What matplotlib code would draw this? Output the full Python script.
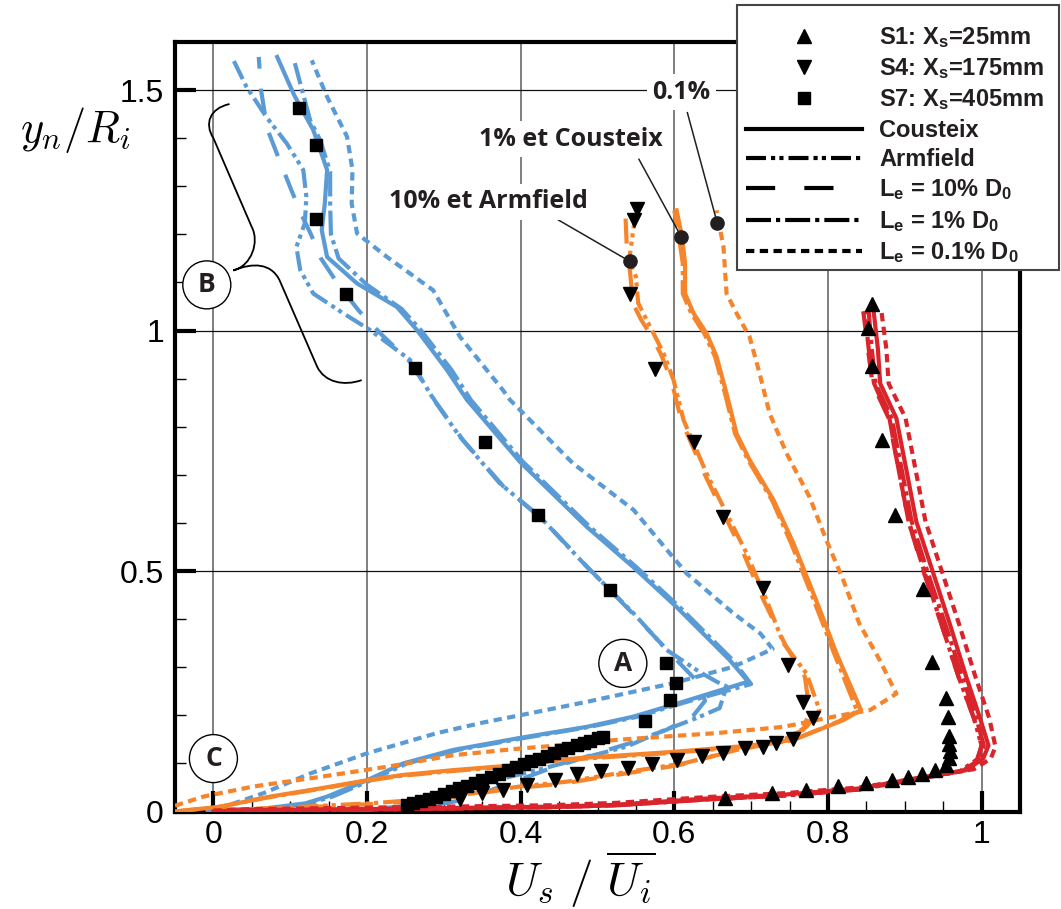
import matplotlib.pyplot as plt
from matplotlib.lines import Line2D
from matplotlib.patches import Ellipse, PathPatch, Rectangle
from matplotlib.path import Path
from matplotlib.ticker import MultipleLocator

# mathtext for the legend subscripts (axis labels switch back to cm)
plt.rcParams['mathtext.fontset'] = 'custom'
plt.rcParams['mathtext.rm'] = 'Liberation Sans:bold'
plt.rcParams['mathtext.it'] = 'Liberation Sans:bold'
plt.rcParams['mathtext.bf'] = 'Liberation Sans:bold'

c_s7 = '#5b9bd5'
c_s4 = '#f5842a'
c_s1 = '#d9242b'
ink = '#231f20'

# ---------------- S7 (X_s = 405 mm) ----------------
s7_cous_u = [0.00, 0.06, 0.12, 0.148, 0.20, 0.247, 0.312, 0.399, 0.486, 0.546, 0.611, 0.696, 0.672, 0.603,
             0.546, 0.486, 0.399, 0.330, 0.304, 0.265, 0.239, 0.187, 0.148, 0.141, 0.145, 0.148, 0.130, 0.105, 0.083]
s7_cous_y = [0.003, 0.005, 0.017, 0.031, 0.065, 0.100, 0.128, 0.153, 0.176, 0.197, 0.228, 0.270, 0.315, 0.425,
             0.509, 0.592, 0.727, 0.856, 0.918, 1.001, 1.049, 1.098, 1.153, 1.209, 1.264, 1.334, 1.417, 1.490, 1.569]
s7_1_u = [0.00, 0.07, 0.125, 0.155, 0.205, 0.252, 0.318, 0.405, 0.490, 0.552, 0.616, 0.700, 0.676, 0.607,
          0.550, 0.490, 0.403, 0.335, 0.310, 0.270, 0.245, 0.200, 0.163, 0.153, 0.152, 0.152, 0.139, 0.126, 0.106]
s7_1_y = [0.003, 0.005, 0.017, 0.031, 0.065, 0.100, 0.128, 0.153, 0.176, 0.197, 0.228, 0.265, 0.315, 0.425,
          0.509, 0.592, 0.727, 0.856, 0.918, 1.001, 1.045, 1.095, 1.150, 1.200, 1.260, 1.330, 1.396, 1.437, 1.556]
s7_01_u = [-0.01, 0.009, 0.065, 0.126, 0.200, 0.291, 0.351, 0.399, 0.486, 0.599, 0.677, 0.728, 0.712, 0.677,
           0.616, 0.547, 0.468, 0.386, 0.377, 0.321, 0.286, 0.226, 0.187, 0.180, 0.181, 0.174, 0.148, 0.128]
s7_01_y = [0.000, 0.007, 0.038, 0.079, 0.121, 0.163, 0.185, 0.200, 0.228, 0.267, 0.301, 0.338, 0.370, 0.412,
           0.495, 0.627, 0.724, 0.856, 0.876, 0.987, 1.084, 1.153, 1.202, 1.264, 1.334, 1.403, 1.486, 1.562]
s7_arm_u = [0.00, 0.10, 0.20, 0.25, 0.30, 0.334, 0.38, 0.421, 0.490, 0.538, 0.581, 0.630, 0.659, 0.668, 0.655,
            0.633, 0.590, 0.547, 0.486, 0.425, 0.373, 0.321, 0.287, 0.256, 0.204, 0.169, 0.130, 0.113, 0.108,
            0.119, 0.121, 0.117, 0.0955, 0.069, 0.043, 0.024]
s7_arm_y = [0.000, 0.001, 0.003, 0.012, 0.035, 0.055, 0.070, 0.086, 0.115, 0.135, 0.165, 0.195, 0.215, 0.260,
            0.270, 0.290, 0.336, 0.412, 0.509, 0.613, 0.682, 0.779, 0.856, 0.939, 1.001, 1.036, 1.077, 1.126,
            1.174, 1.223, 1.278, 1.334, 1.389, 1.444, 1.507, 1.569]
s7_10_u = [0.00, 0.12, 0.22, 0.27, 0.325, 0.38, 0.434, 0.499, 0.542, 0.590, 0.625, 0.640, 0.630, 0.600, 0.550,
           0.490, 0.430, 0.378, 0.325, 0.290, 0.256, 0.220, 0.190, 0.165, 0.140, 0.127, 0.115, 0.102, 0.087,
           0.070, 0.062, 0.059]
s7_10_y = [0.000, 0.001, 0.003, 0.008, 0.024, 0.055, 0.087, 0.121, 0.142, 0.170, 0.200, 0.230, 0.270, 0.320,
           0.405, 0.503, 0.605, 0.675, 0.772, 0.850, 0.935, 0.990, 1.040, 1.090, 1.150, 1.200, 1.240, 1.290,
           1.350, 1.420, 1.500, 1.569]
s7_exp_u = [0.111, 0.133, 0.134, 0.172, 0.262, 0.354, 0.422, 0.516, 0.589, 0.602, 0.595, 0.562,
            0.507, 0.500, 0.490, 0.482, 0.473, 0.462, 0.453, 0.444, 0.434, 0.424, 0.414, 0.404, 0.394, 0.383,
            0.372, 0.361, 0.350, 0.340, 0.330, 0.320, 0.310, 0.300, 0.290, 0.280, 0.270, 0.260, 0.252]
s7_exp_y = [1.462, 1.386, 1.231, 1.077, 0.923, 0.769, 0.616, 0.461, 0.308, 0.268, 0.232, 0.189,
            0.155, 0.152, 0.147, 0.142, 0.138, 0.132, 0.127, 0.122, 0.116, 0.110, 0.105, 0.099, 0.093, 0.086,
            0.079, 0.072, 0.066, 0.060, 0.054, 0.048, 0.043, 0.037, 0.031, 0.026, 0.021, 0.017, 0.014]

# ---------------- S4 (X_s = 175 mm) ----------------
s4_cous_u = [-0.05, 0.009, 0.074, 0.139, 0.200, 0.247, 0.312, 0.399, 0.451, 0.486, 0.599, 0.698, 0.755, 0.820,
             0.843, 0.811, 0.798, 0.781, 0.755, 0.729, 0.698, 0.681, 0.668, 0.655, 0.642, 0.625, 0.614, 0.614,
             0.610, 0.603]
s4_cous_y = [0.000, 0.010, 0.031, 0.048, 0.065, 0.076, 0.086, 0.097, 0.108, 0.112, 0.124, 0.137, 0.149, 0.190,
             0.211, 0.329, 0.384, 0.454, 0.558, 0.648, 0.731, 0.786, 0.869, 0.946, 0.994, 1.036, 1.077, 1.140,
             1.195, 1.250]
s4_1_u = [-0.05, 0.005, 0.070, 0.135, 0.196, 0.243, 0.310, 0.397, 0.449, 0.484, 0.597, 0.695, 0.752, 0.815,
          0.838, 0.808, 0.795, 0.778, 0.752, 0.727, 0.696, 0.679, 0.666, 0.653, 0.639, 0.622, 0.611, 0.611,
          0.606, 0.600]
s4_1_y = [0.000, 0.009, 0.029, 0.046, 0.063, 0.074, 0.084, 0.095, 0.106, 0.110, 0.122, 0.135, 0.147, 0.188,
          0.209, 0.329, 0.384, 0.454, 0.558, 0.648, 0.731, 0.786, 0.869, 0.946, 0.994, 1.036, 1.077, 1.140,
          1.195, 1.250]
s4_01_u = [-0.05, -0.013, 0.052, 0.139, 0.226, 0.312, 0.399, 0.486, 0.525, 0.655, 0.742, 0.807, 0.855, 0.889,
           0.867, 0.841, 0.820, 0.798, 0.776, 0.746, 0.724, 0.711, 0.698, 0.681, 0.668, 0.664, 0.655]
s4_01_y = [0.012, 0.031, 0.052, 0.072, 0.093, 0.117, 0.131, 0.142, 0.149, 0.163, 0.176, 0.197, 0.211, 0.245,
           0.316, 0.390, 0.481, 0.564, 0.654, 0.745, 0.828, 0.911, 0.987, 1.036, 1.077, 1.174, 1.250]
s4_arm_u = [0.000, 0.117, 0.204, 0.291, 0.399, 0.460, 0.525, 0.612, 0.681, 0.742, 0.772, 0.789, 0.772, 0.742,
            0.720, 0.694, 0.668, 0.642, 0.625, 0.612, 0.599, 0.586, 0.573, 0.564, 0.553, 0.550, 0.541, 0.549]
s4_arm_y = [0.002, 0.010, 0.017, 0.027, 0.052, 0.062, 0.079, 0.100, 0.128, 0.149, 0.176, 0.211, 0.287, 0.350,
            0.440, 0.537, 0.620, 0.703, 0.766, 0.814, 0.897, 0.953, 0.994, 1.022, 1.057, 1.112, 1.144, 1.237]
s4_10_u = [0.000, 0.110, 0.200, 0.285, 0.390, 0.455, 0.520, 0.605, 0.672, 0.735, 0.768, 0.776, 0.770, 0.745,
           0.716, 0.690, 0.664, 0.639, 0.622, 0.609, 0.596, 0.582, 0.568, 0.557, 0.546, 0.543, 0.538, 0.536]
s4_10_y = [0.000, 0.008, 0.015, 0.024, 0.048, 0.058, 0.075, 0.096, 0.124, 0.145, 0.170, 0.210, 0.280, 0.345,
           0.440, 0.537, 0.620, 0.703, 0.766, 0.814, 0.897, 0.953, 0.994, 1.022, 1.057, 1.112, 1.180, 1.254]
s4_exp_u = [0.551, 0.547, 0.542, 0.575, 0.625, 0.664, 0.716, 0.748, 0.768, 0.781, 0.755, 0.733, 0.716, 0.692,
            0.664, 0.636, 0.603, 0.571, 0.540, 0.505, 0.473, 0.445, 0.408, 0.377, 0.349, 0.321]
s4_exp_y = [1.252, 1.230, 1.075, 0.920, 0.769, 0.613, 0.464, 0.305, 0.228, 0.194, 0.150, 0.142, 0.135, 0.131,
            0.121, 0.115, 0.107, 0.098, 0.091, 0.085, 0.079, 0.065, 0.055, 0.045, 0.038, 0.027]

# ---------------- S1 (X_s = 25 mm) ----------------
s1_cous_u = [0.000, 0.043, 0.200, 0.438, 0.525, 0.642, 0.742, 0.841, 0.915, 0.980, 1.002, 1.009, 0.998, 0.980,
             0.959, 0.937, 0.915, 0.902, 0.889, 0.868, 0.865, 0.859]
s1_cous_y = [0.000, 0.003, 0.005, 0.010, 0.014, 0.027, 0.035, 0.048, 0.069, 0.086, 0.110, 0.137, 0.194, 0.280,
             0.388, 0.496, 0.603, 0.711, 0.818, 0.890, 0.962, 1.047]
s1_01_u = [0.000, 0.050, 0.200, 0.438, 0.525, 0.642, 0.742, 0.841, 0.920, 0.990, 1.012, 1.018, 1.010, 0.992,
           0.971, 0.949, 0.927, 0.914, 0.901, 0.879, 0.876, 0.869]
s1_01_y = [0.002, 0.005, 0.008, 0.013, 0.018, 0.030, 0.038, 0.050, 0.070, 0.088, 0.110, 0.135, 0.194, 0.280,
           0.388, 0.496, 0.603, 0.711, 0.818, 0.890, 0.962, 1.047]
s1_1_u = [0.000, 0.043, 0.200, 0.438, 0.525, 0.642, 0.742, 0.841, 0.912, 0.975, 0.997, 1.003, 0.993, 0.975,
          0.953, 0.930, 0.909, 0.896, 0.883, 0.862, 0.857, 0.853]
s1_10_u = [0.000, 0.043, 0.200, 0.438, 0.525, 0.642, 0.742, 0.841, 0.910, 0.972, 0.995, 1.000, 0.990, 0.970,
           0.948, 0.925, 0.905, 0.892, 0.879, 0.858, 0.852, 0.846]
s1_arm_u = [0.000, 0.043, 0.200, 0.438, 0.525, 0.642, 0.742, 0.841, 0.910, 0.972, 0.994, 1.000, 0.990, 0.970,
            0.948, 0.926, 0.905, 0.892, 0.880, 0.860, 0.853, 0.848]
s1_low_y = [0.000, 0.002, 0.004, 0.009, 0.013, 0.025, 0.033, 0.046, 0.066, 0.084, 0.108, 0.137, 0.194, 0.280,
            0.388, 0.496, 0.603, 0.711, 0.818, 0.890, 0.962, 1.040]
s1_exp_u = [0.857, 0.852, 0.857, 0.870, 0.887, 0.924, 0.935, 0.954, 0.956, 0.957, 0.958, 0.959, 0.958, 0.954,
            0.939, 0.922, 0.904, 0.883, 0.850, 0.813, 0.772, 0.727, 0.666]
s1_exp_y = [1.055, 1.005, 0.926, 0.772, 0.617, 0.463, 0.310, 0.235, 0.196, 0.158, 0.140, 0.125, 0.112, 0.096,
            0.086, 0.079, 0.072, 0.065, 0.060, 0.052, 0.045, 0.039, 0.029]

# call-outs: text, text position, line start, dot on the curve
note_text = ['10% et Armfield', '1% et Cousteix', '0.1%']
note_pos = [(0.358, 1.268), (0.465, 1.398), (0.609, 1.496)]
note_from = [(0.449, 1.230), (0.554, 1.356), (0.617, 1.453)]
note_dot = [(0.542, 1.144), (0.609, 1.195), (0.656, 1.223)]

circle_text = ['A', 'B', 'C']
circle_pos = [(0.533, 0.308), (-0.0086, 1.095), (0.0, 0.110)]

xticks = [0, 0.2, 0.4, 0.6, 0.8, 1]
xtick_labels = ['0', '0.2', '0.4', '0.6', '0.8', '1']
yticks = [0, 0.5, 1, 1.5]
ytick_labels = ['0', '0.5', '1', '1.5']

legend_labels = ['S1: X$_s$=25mm', 'S4: X$_s$=175mm', 'S7: X$_s$=405mm', 'Cousteix', 'Armfield',
                 'L$_e$ = 10% D$_0$', 'L$_e$ = 1% D$_0$', 'L$_e$ = 0.1% D$_0$']

# line styles of the models
ls_cous = '-'
ls_arm = (0, (4.8, 1.2, 1.0, 1.0, 1.0, 1.2))
ls_10 = (0, (6, 4.8))
ls_1 = (0, (6, 1.2, 1.0, 1.2))
ls_01 = (0, (2.0, 1.3))
lw = 3.0

fig = plt.figure(figsize=(10.61, 9.09), dpi=100)
ax = fig.add_axes([175 / 1061, 1 - 811.5 / 909, 845 / 1061, 769.5 / 909])

profiles = [
    (c_s7, s7_arm_u, s7_arm_y, ls_arm), (c_s7, s7_10_u, s7_10_y, ls_10), (c_s7, s7_1_u, s7_1_y, ls_1),
    (c_s7, s7_cous_u, s7_cous_y, ls_cous), (c_s7, s7_01_u, s7_01_y, ls_01),
    (c_s4, s4_arm_u, s4_arm_y, ls_arm), (c_s4, s4_10_u, s4_10_y, ls_10), (c_s4, s4_1_u, s4_1_y, ls_1),
    (c_s4, s4_cous_u, s4_cous_y, ls_cous), (c_s4, s4_01_u, s4_01_y, ls_01),
    (c_s1, s1_arm_u, s1_low_y, ls_arm), (c_s1, s1_10_u, s1_low_y, ls_10), (c_s1, s1_1_u, s1_low_y, ls_1),
    (c_s1, s1_cous_u, s1_cous_y, ls_cous), (c_s1, s1_01_u, s1_01_y, ls_01),
]
for col, u, y, ls in profiles:
    ax.plot(u, y, color=col, ls=ls, lw=lw, zorder=3)

# experiments
ax.plot(s1_exp_u, s1_exp_y, '^', color='k', ms=9.5, ls='none', zorder=5)
ax.plot(s4_exp_u, s4_exp_y, 'v', color='k', ms=9.5, ls='none', zorder=5)
ax.plot(s7_exp_u, s7_exp_y, 's', color='k', ms=8, ls='none', zorder=5)

# labelled call-outs
for s, p, a, d in zip(note_text, note_pos, note_from, note_dot):
    ax.plot([a[0], d[0]], [a[1], d[1]], color=ink, lw=1.1, zorder=6)
    ax.plot(d[0], d[1], 'o', color=ink, ms=9.5, zorder=7)
    ax.text(p[0], p[1], s, ha='center', va='center', fontsize=18, fontweight='bold',
            family='Open Sans', color=ink, zorder=6,
            bbox=dict(fc='white', ec='none', pad=4))

# circled letters
for s, p in zip(circle_text, circle_pos):
    ax.add_patch(Ellipse(p, 0.0625, 0.0998, fc='white', ec='k', lw=1.0, zorder=6))
    ax.text(p[0], p[1], s, ha='center', va='center', fontsize=19, fontweight='bold',
            family='Open Sans', color=ink, zorder=7)

# brace pointing at B
brace_v = [(0.021, 1.471), (-0.005, 1.462), (-0.012, 1.43), (0.0, 1.40), (0.050, 1.215),
           (0.060, 1.185), (0.050, 1.135), (0.026, 1.125),
           (0.052, 1.142), (0.075, 1.14), (0.086, 1.105), (0.135, 0.925),
           (0.145, 0.892), (0.170, 0.884), (0.193, 0.897)]
brace_c = [Path.MOVETO, Path.CURVE4, Path.CURVE4, Path.CURVE4, Path.LINETO,
           Path.CURVE4, Path.CURVE4, Path.CURVE4,
           Path.CURVE4, Path.CURVE4, Path.CURVE4, Path.LINETO,
           Path.CURVE4, Path.CURVE4, Path.CURVE4]
ax.add_patch(PathPatch(Path(brace_v, brace_c), fill=False, ec='k', lw=1.3, zorder=6))

# axes, ticks, grid
ax.set_xlim(-0.05, 1.05)
ax.set_ylim(0, 1.6)
ax.set_xticks(xticks)
ax.set_yticks(yticks)
tick_font = ['Liberation Sans Narrow', 'Liberation Sans']
ax.set_xticklabels(xtick_labels, fontsize=23, family=tick_font)
ax.set_yticklabels(ytick_labels, fontsize=23, family=tick_font)
ax.xaxis.set_minor_locator(MultipleLocator(0.05))
ax.yaxis.set_minor_locator(MultipleLocator(0.1))
ax.tick_params(which='major', direction='in', length=15, width=3, pad=8, top=False, right=False)
ax.tick_params(which='minor', direction='in', length=8, width=1, top=False, right=False)
ax.tick_params(axis='x', which='major', pad=6)
ax.xaxis.grid(True, which='major', color='#6a6a6a', lw=1.2)
ax.yaxis.grid(True, which='major', color='#111111', lw=0.9)
ax.set_axisbelow(True)
for sp in ax.spines.values():
    sp.set_linewidth(3)

fig.text(75 / 1061, 1 - 130 / 909, r'$y_n/R_i$', fontsize=32, ha='center', va='center',
         math_fontfamily='cm')
fig.text(580 / 1061, 1 - 880 / 909, r'$U_s\ /\ \overline{U_i}$', fontsize=34, ha='center',
         va='center', math_fontfamily='cm')

# legend box sits over the top-right corner of the frame
fig.add_artist(Rectangle((737 / 1061, 1 - 270 / 909), 322 / 1061, 265 / 909, transform=fig.transFigure,
                         fc='white', ec='#444444', lw=1.5, zorder=2))
handles = [Line2D([], [], color='k', marker='^', ls='none', ms=9.5),
           Line2D([], [], color='k', marker='v', ls='none', ms=9.5),
           Line2D([], [], color='k', marker='s', ls='none', ms=8),
           Line2D([], [], color='k', ls=ls_cous, lw=lw),
           Line2D([], [], color='k', ls=ls_arm, lw=lw),
           Line2D([], [], color='k', ls=(0, (7, 7)), lw=lw),
           Line2D([], [], color='k', ls=ls_1, lw=lw),
           Line2D([], [], color='k', ls=ls_01, lw=lw)]
leg = fig.legend(handles, legend_labels, loc='upper left', bbox_to_anchor=(746 / 1061, 1 - 25 / 909),
                 borderaxespad=0, borderpad=0, handlelength=4.9, handletextpad=0.75, labelspacing=0.27,
                 frameon=False, prop={'family': 'Liberation Sans', 'weight': 'bold', 'size': 17})
leg.set_zorder(3)
for t in leg.get_texts():
    t.set_color(ink)

fig.savefig('out.png', dpi=100)
